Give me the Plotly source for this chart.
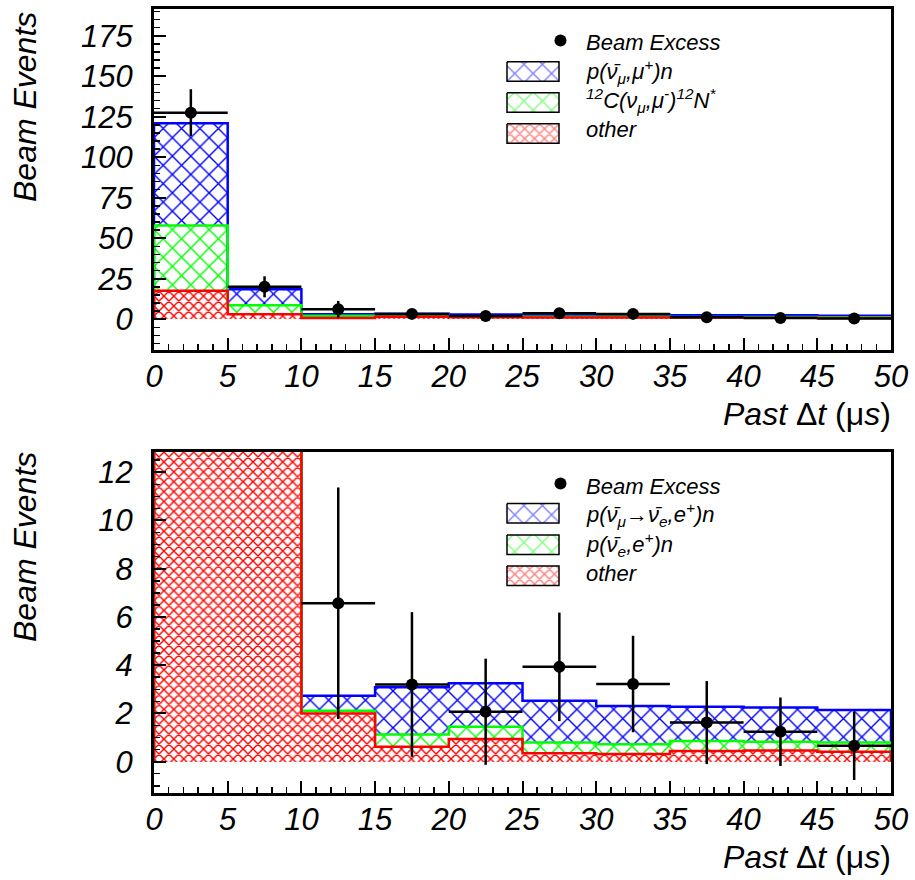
import plotly.graph_objects as go

# ---------------- data ----------------
bin_edges = [0, 5, 10, 15, 20, 25, 30, 35, 40, 45, 50]
bin_centers = [2.5, 7.5, 12.5, 17.5, 22.5, 27.5, 32.5, 37.5, 42.5, 47.5]
x_tick_vals = [0, 5, 10, 15, 20, 25, 30, 35, 40, 45, 50]

# top panel: cumulative stack heights
top_numubar = [121.0, 18.5, 3.1, 3.4, 2.9, 2.8, 2.7, 2.5, 2.4, 2.2]   # p(nubar_mu, mu+)n (total)
top_c12 = [57.8, 8.6, 2.2, 2.2, 1.8, 1.6, 1.5, 1.4, 1.3, 1.2]        # 12C(nu_mu,mu-)12N*
top_other = [17.5, 3.0, 0.8, 1.6, 1.2, 1.1, 1.0, 1.0, 0.9, 0.8]      # other
top_data = [127.5, 20.0, 6.2, 3.3, 2.0, 3.7, 3.3, 1.2, 0.8, 0.4]
top_err = [14.5, 6.5, 5.1, 2.8, 2.6, 2.8, 2.6, 2.4, 2.2, 2.0]
top_y_ticks = [0, 25, 50, 75, 100, 125, 150, 175]

# bottom panel: cumulative stack heights
bot_osc = [15.0, 15.0, 2.73, 3.08, 3.25, 2.53, 2.31, 2.28, 2.25, 2.14]   # p(nubar_mu->nubar_e, e+)n (total)
bot_nuebar = [15.0, 15.0, 2.11, 1.13, 1.45, 0.79, 0.72, 0.86, 0.83, 0.79]
bot_other = [15.0, 15.0, 2.0, 0.62, 0.94, 0.35, 0.32, 0.44, 0.46, 0.41]
bot_data = [None, None, 6.57, 3.2, 2.07, 3.93, 3.22, 1.62, 1.24, 0.66]
bot_err = [None, None, 4.8, 3.0, 2.2, 2.25, 2.0, 1.72, 1.42, 1.42]
bot_y_ticks = [0, 2, 4, 6, 8, 10, 12]

top_labels = ["Beam Excess",
              "<i>p</i>(ν̄<sub>μ</sub>,μ<sup>+</sup>)<i>n</i>",
              "<sup>12</sup><i>C</i>(ν<sub>μ</sub>,μ<sup>-</sup>)<sup>12</sup><i>N</i><sup>*</sup>",
              "<i>other</i>"]
bot_labels = ["Beam Excess",
              "<i>p</i>(ν̄<sub>μ</sub>→ν̄<sub><i>e</i></sub>,<i>e</i><sup>+</sup>)<i>n</i>",
              "<i>p</i>(ν̄<sub><i>e</i></sub>,<i>e</i><sup>+</sup>)<i>n</i>",
              "<i>other</i>"]

# ---------------- styling ----------------
W, H = 915, 880
FONT = "Liberation Sans"
BLUE, GREEN, RED = "#0000ff", "#00ff00", "#ff0000"
hatch = {BLUE: (13, 0.2), GREEN: (13, 0.2), RED: (7, 0.36)}

fig = go.Figure()


def add_panel(xa, ya, stacks, data, err):
    bw = [bin_edges[i + 1] - bin_edges[i] for i in range(len(bin_centers))]
    for vals, col in stacks:
        size, sol = hatch[col]
        fig.add_trace(go.Bar(
            x=bin_centers, y=vals, width=bw, xaxis=xa, yaxis=ya,
            marker=dict(color="white", line=dict(width=0),
                        pattern=dict(shape="x", fgcolor=col, bgcolor="white",
                                     size=size, solidity=sol, fillmode="replace")),
            showlegend=False, hoverinfo="skip"))
    for vals, col in stacks:
        xs = [bin_edges[0]] + bin_edges[:-1] + [bin_edges[-1], bin_edges[-1]]
        ys = [0] + list(vals) + [vals[-1], 0]
        fig.add_trace(go.Scatter(
            x=xs, y=ys, mode="lines", line=dict(color=col, width=2.5, shape="hv"),
            xaxis=xa, yaxis=ya, showlegend=False, hoverinfo="skip"))
    fig.add_trace(go.Scatter(
        x=bin_centers, y=data, mode="markers", xaxis=xa, yaxis=ya,
        marker=dict(color="black", size=12),
        error_y=dict(type="data", array=err, color="black", thickness=2.5, width=0),
        error_x=dict(type="data", array=[w / 2 for w in bw], color="black", thickness=2.5, width=0),
        showlegend=False, hoverinfo="skip"))


add_panel("x", "y", [(top_numubar, BLUE), (top_c12, GREEN), (top_other, RED)], top_data, top_err)
add_panel("x2", "y2", [(bot_osc, BLUE), (bot_nuebar, GREEN), (bot_other, RED)], bot_data, bot_err)

# ---------------- legends (pixel overlay) ----------------
def add_legend(marker_y, box_tops, labels, text_ys):
    bx0, bx1 = 507, 559
    fig.add_trace(go.Scatter(x=[560.5], y=[marker_y], mode="markers", xaxis="x3", yaxis="y3",
                             marker=dict(color="black", size=12), showlegend=False, hoverinfo="skip"))
    for top, col in zip(box_tops, [BLUE, GREEN, RED]):
        size, sol = hatch[col]
        fig.add_trace(go.Scatter(
            x=[bx0, bx1, bx1, bx0, bx0], y=[top, top, top + 19.5, top + 19.5, top],
            mode="lines", fill="toself", fillcolor="white", xaxis="x3", yaxis="y3",
            fillpattern=dict(shape="x", fgcolor=col, bgcolor="white", size=size, solidity=sol),
            line=dict(color="black", width=1.5), showlegend=False, hoverinfo="skip"))
    for lab, ty in zip(labels, text_ys):
        fig.add_annotation(text=lab, x=584 / W, y=1 - ty / H, xref="paper", yref="paper",
                           xanchor="left", yanchor="middle", showarrow=False,
                           font=dict(family=FONT, size=22, color="black", style="italic"))


add_legend(40.5, [61.7, 92.7, 123.7], top_labels, [43, 71, 101, 130])
add_legend(483.5, [503.5, 535, 566], bot_labels, [486, 514, 544, 573])

# ---------------- axis titles ----------------
for ytop in [10, 450]:
    fig.add_annotation(text="<i>Beam Events</i>", x=25 / W, y=1 - ytop / H, xref="paper", yref="paper",
                       textangle=-90, xanchor="center", yanchor="top", showarrow=False,
                       font=dict(family=FONT, size=32, color="black"))
for ymid in [414, 857]:
    fig.add_annotation(text="<i>Past</i> Δ<i>t</i> (μ<i>s</i>)", x=893 / W, y=1 - ymid / H,
                       xref="paper", yref="paper", xanchor="right", yanchor="middle",
                       showarrow=False, font=dict(family=FONT, size=32, color="black"))

# ---------------- axes ----------------
xdom = [154 / W, 891 / W]
ydom_top = [1 - 350 / H, 1 - 9 / H]
ydom_bot = [1 - 793 / H, 1 - 452 / H]

tickfont = dict(family=FONT, size=31, color="black", style="italic")
common_x = dict(range=[0, 50], tickvals=x_tick_vals, ticktext=[str(v) for v in x_tick_vals],
                ticks="inside", ticklen=12, tickwidth=2, tickcolor="black",
                minor=dict(dtick=1, tick0=0, ticks="inside", ticklen=6, tickwidth=1.5, tickcolor="black"),
                showline=True, linecolor="black", linewidth=3, mirror=True,
                showgrid=False, zeroline=False, tickfont=tickfont, automargin=False,
                ticklabelstandoff=-3, domain=xdom, fixedrange=True)
common_y = dict(ticks="inside", ticklen=12, tickwidth=2, tickcolor="black",
                showline=True, linecolor="black", linewidth=3, mirror=True,
                showgrid=False, zeroline=False, tickfont=tickfont, automargin=False,
                ticklabelstandoff=12, fixedrange=True)

fig.update_layout(
    width=W, height=H, margin=dict(l=0, r=0, t=0, b=0),
    paper_bgcolor="white", plot_bgcolor="rgba(0,0,0,0)",
    barmode="overlay", bargap=0, showlegend=False,
    xaxis=dict(anchor="y", **common_x),
    yaxis=dict(anchor="x", domain=ydom_top, range=[-19, 191.5], tickvals=top_y_ticks,
               minor=dict(dtick=5, tick0=0, ticks="inside", ticklen=6, tickwidth=1.5, tickcolor="black"),
               **common_y),
    xaxis2=dict(anchor="y2", **common_x),
    yaxis2=dict(anchor="x2", domain=ydom_bot, range=[-1.3, 12.84], tickvals=bot_y_ticks,
                minor=dict(dtick=0.5, tick0=0, ticks="inside", ticklen=6, tickwidth=1.5, tickcolor="black"),
                **common_y),
    xaxis3=dict(domain=[0, 1], range=[0, W], visible=False, anchor="y3", fixedrange=True),
    yaxis3=dict(domain=[0, 1], range=[H, 0], visible=False, anchor="x3", fixedrange=True),
)

fig.write_html("out.html", config={"displayModeBar": False, "staticPlot": True},
               post_script="document.body.style.margin='0';document.body.style.overflow='hidden';")
